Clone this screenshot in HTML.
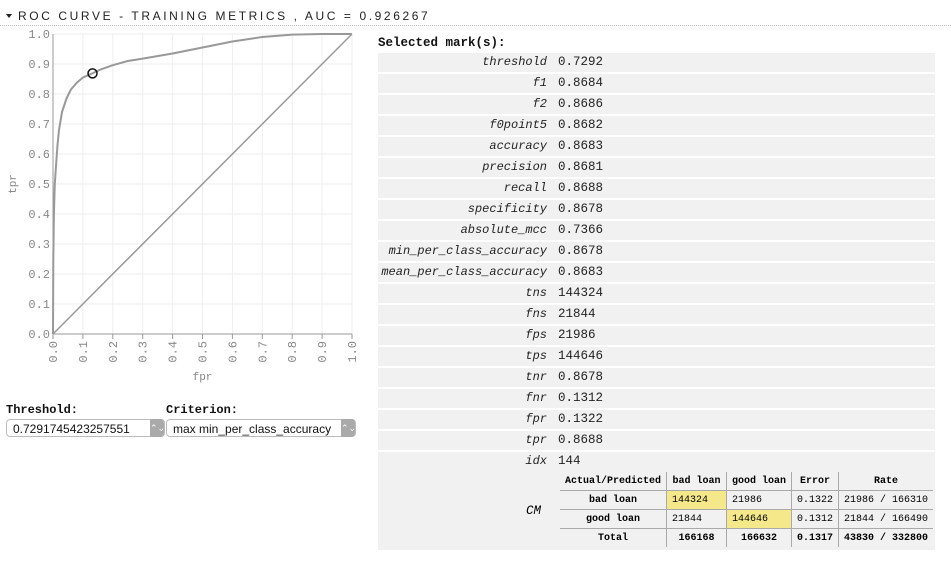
<!DOCTYPE html>
<html><head><meta charset="utf-8">
<style>
body{margin:0;background:#fff;width:951px;height:564px;overflow:hidden;position:relative;font-family:"Liberation Mono","DejaVu Sans Mono",monospace;}
.title{position:absolute;left:6px;top:9px;font-family:"Liberation Sans",sans-serif;font-size:12px;letter-spacing:2.6px;color:#222;}
.title:before{content:"";display:inline-block;border-left:3px solid transparent;border-right:3px solid transparent;border-top:4px solid #222;margin-right:6px;vertical-align:2px;}
.hr{position:absolute;left:0;top:25px;width:951px;border-top:1px dotted #bbb;}
#metrics{position:absolute;left:378px;top:36px;width:557px;}
.hd{font-weight:bold;font-size:12.5px;color:#111;height:15px;}
.row{height:19px;margin-top:2px;background:#f1f1f1;font-size:12.5px;line-height:19px;position:relative;color:#222;}
.row .k{position:absolute;right:388px;font-style:italic;font-size:12px;}
.row .v{position:absolute;left:180px;}
.cm{position:absolute;left:378px;top:470px;width:557px;height:80px;background:#f1f1f1;}
.cm .lab{position:absolute;left:148px;top:34px;font-style:italic;font-size:12.5px;}
table{position:absolute;left:182px;top:2px;border-collapse:collapse;font-size:10px;table-layout:fixed;}
td{padding:0 5px;height:18px;border-left:1px solid #aaa;border-bottom:1px solid #aaa;white-space:nowrap;overflow:hidden;}
td:first-child{border-left:none;}
tr:last-child td{border-bottom:none;font-weight:bold;}
tr:first-child td{font-weight:bold;text-align:center;}
.rh{font-weight:bold;text-align:center;}
.hl{background:#f5e88a;}
.ctl{position:absolute;font-family:"Liberation Mono",monospace;font-weight:bold;font-size:12px;color:#111;}
.sel{position:absolute;height:18px;border:1px solid #bbb;border-radius:4px;background:#fff;font-family:"Liberation Sans",sans-serif;font-size:12px;line-height:18px;padding-left:6px;box-sizing:border-box;color:#111;}
.sel i{position:absolute;right:0;top:-1px;width:14px;height:18px;background:#aaa;border-radius:0 4px 4px 0;color:#fff;font-style:normal;font-size:9px;text-align:center;line-height:18px;}
</style></head><body>
<div class="title">ROC CURVE - TRAINING METRICS , AUC = 0.926267</div>
<div class="hr"></div>
<svg id="chart" width="370" height="395" style="position:absolute;left:0;top:0"></svg>
<div class="ctl" style="left:6px;top:403px">Threshold:</div>
<div class="sel" style="left:6px;top:419px;width:159px">0.7291745423257551<i>⌃⌄</i></div>
<div class="ctl" style="left:166px;top:403px">Criterion:</div>
<div class="sel" style="left:166px;top:419px;width:190px">max min_per_class_accuracy<i>⌃⌄</i></div>
<div id="metrics"><div class="hd">Selected mark(s):</div></div>
<div class="cm"><span class="lab">CM</span>
<table>
<colgroup><col style="width:104px"><col style="width:60px"><col style="width:64px"><col style="width:47px"><col style="width:93px"></colgroup>
<tr><td>Actual/Predicted</td><td>bad loan</td><td>good loan</td><td>Error</td><td>Rate</td></tr>
<tr><td class="rh">bad loan</td><td class="hl">144324</td><td>21986</td><td>0.1322</td><td>21986 / 166310</td></tr>
<tr><td class="rh">good loan</td><td>21844</td><td class="hl">144646</td><td>0.1312</td><td>21844 / 166490</td></tr>
<tr><td style="text-align:center">Total</td><td style="text-align:center">166168</td><td style="text-align:center">166632</td><td>0.1317</td><td>43830 / 332800</td></tr>
</table></div>
<script>
const fprVals=[0,0.001,0.003,0.006,0.01,0.015,0.02,0.03,0.045,0.06,0.08,0.1,0.13,0.16,0.2,0.25,0.3,0.4,0.5,0.6,0.7,0.8,0.9,1];
const tprVals=[0,0.25,0.4,0.5,0.56,0.63,0.68,0.74,0.785,0.815,0.838,0.855,0.868,0.882,0.896,0.91,0.918,0.935,0.955,0.975,0.99,0.998,1,1];
const ticks=[0,0.1,0.2,0.3,0.4,0.5,0.6,0.7,0.8,0.9,1.0];
const markPoint=[0.1322,0.8688];
const metricKeys=["threshold","f1","f2","f0point5","accuracy","precision","recall","specificity","absolute_mcc","min_per_class_accuracy","mean_per_class_accuracy","tns","fns","fps","tps","tnr","fnr","fpr","tpr","idx"];
const metricVals=["0.7292","0.8684","0.8686","0.8682","0.8683","0.8681","0.8688","0.8678","0.7366","0.8678","0.8683","144324","21844","21986","144646","0.8678","0.1312","0.1322","0.8688","144"];
const X0=53,X1=352,Y0=334,Y1=34;
const sx=v=>X0+v*(X1-X0), sy=v=>Y0-v*(Y0-Y1);
const NS="http://www.w3.org/2000/svg", svg=document.getElementById('chart');
function mk(t,a){const e=document.createElementNS(NS,t);for(const k in a)e.setAttribute(k,a[k]);svg.appendChild(e);return e;}
ticks.forEach(t=>{
 let g=mk('line',{x1:sx(t),x2:sx(t),y1:Y1,y2:Y0,stroke:'#eee'});
 
 g=mk('line',{x1:X0,x2:X1,y1:sy(t),y2:sy(t),stroke:'#eee'});
 
 let l=mk('text',{x:X0-3,y:sy(t)+4,'text-anchor':'end','font-size':'12','fill':'#888','font-family':'Liberation Mono, monospace'});
 l.textContent=t.toFixed(1);
 let tk=mk('line',{x1:sx(t),x2:sx(t),y1:Y0,y2:Y0+5,stroke:'#999'});
 
 let xl=mk('text',{x:0,y:0,'text-anchor':'end','font-size':'12','fill':'#888','font-family':'Liberation Mono, monospace',transform:`translate(${sx(t)+4},${Y0+7}) rotate(-90)`});
 xl.textContent=t.toFixed(1);
});
let ax=mk('path',{d:`M${X0},${Y1}V${Y0}H${X1}`,fill:'none',stroke:'#999'});

let yt=mk('text',{x:0,y:0,'text-anchor':'middle','font-size':'11','fill':'#888','font-family':'Liberation Mono, monospace',transform:`translate(16,${(Y0+Y1)/2}) rotate(-90)`});
yt.textContent='tpr';
let xt=mk('text',{x:(X0+X1)/2,y:380,'text-anchor':'middle','font-size':'11','fill':'#888','font-family':'Liberation Mono, monospace'});
xt.textContent='fpr';
let dg=mk('line',{x1:sx(0),y1:sy(0),x2:sx(1),y2:sy(1),stroke:'#999','stroke-width':1.5});

let d=fprVals.map((f,i)=>(i?'L':'M')+sx(f).toFixed(1)+','+sy(tprVals[i]).toFixed(1)).join('');
let rc=mk('path',{d:d,fill:'none',stroke:'#999','stroke-width':2,'stroke-linejoin':'round'});

let mp=mk('circle',{cx:sx(markPoint[0]),cy:sy(markPoint[1]),r:4.5,fill:'none',stroke:'#111','stroke-width':1.5});

const m=document.getElementById('metrics');
metricKeys.forEach((k,i)=>{
 const r=document.createElement('div');r.className='row';
 
 
 r.innerHTML=`<span class="k">${k}</span><span class="v">${metricVals[i]}</span>`;
 m.appendChild(r);
});
</script>
</body></html>
